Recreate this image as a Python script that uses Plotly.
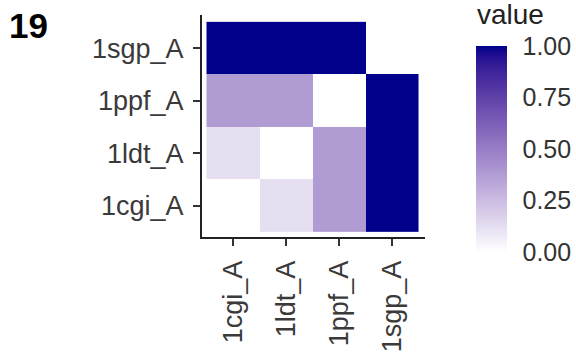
import plotly.graph_objects as go
import numpy as np

# ---- data ----
categories = ["1cgi_A", "1ldt_A", "1ppf_A", "1sgp_A"]
row_1cgi = [0.0, 0.12, 0.38, 1.0]
row_1ldt = [0.12, 0.0, 0.38, 1.0]
row_1ppf = [0.38, 0.38, 0.0, 1.0]
row_1sgp = [1.0, 1.0, 1.0, None]
panel_label = "19"
legend_title = "value"
cbar_ticks = [0.0, 0.25, 0.5, 0.75, 1.0]

z = [row_1cgi, row_1ldt, row_1ppf, row_1sgp]
z = [[np.nan if v is None else v for v in r] for r in z]

# ---- colour scale: white -> darkblue interpolated in Lab (like ggplot) ----
def srgb_to_lin(c):
    c = c / 255.0
    return np.where(c <= 0.04045, c / 12.92, ((c + 0.055) / 1.055) ** 2.4)

def lin_to_srgb(c):
    c = np.clip(c, 0, 1)
    return np.where(c <= 0.0031308, 12.92 * c, 1.055 * c ** (1 / 2.4) - 0.055) * 255

M = np.array([[0.4124, 0.3576, 0.1805], [0.2126, 0.7152, 0.0722], [0.0193, 0.1192, 0.9505]])
WHITE = np.array([0.95047, 1.0, 1.08883])

def rgb_to_lab(rgb):
    xyz = M @ srgb_to_lin(np.array(rgb, float)) / WHITE
    f = np.where(xyz > 0.008856, np.cbrt(xyz), 7.787 * xyz + 16 / 116)
    return np.array([116 * f[1] - 16, 500 * (f[0] - f[1]), 200 * (f[1] - f[2])])

def lab_to_rgb(lab):
    L, a, b = lab
    fy = (L + 16) / 116
    fx = fy + a / 500
    fz = fy - b / 200
    f = np.array([fx, fy, fz])
    xyz = np.where(f ** 3 > 0.008856, f ** 3, (f - 16 / 116) / 7.787) * WHITE
    return lin_to_srgb(np.linalg.inv(M) @ xyz)

lo, hi = rgb_to_lab([255, 255, 255]), rgb_to_lab([0, 0, 139])
colorscale = []
for t in np.linspace(0, 1, 21):
    r, g, b = lab_to_rgb(lo + (hi - lo) * t)
    colorscale.append([float(t), f"rgb({r:.0f},{g:.0f},{b:.0f})"])

W, H = 576, 360
L, R, T, B = 202, 425, 15, 237
FONT = "Liberation Sans, Arial"

def px_x(px):
    return (px - L) / (R - L)

def px_y(py):
    return (B - py) / (B - T)

fig = go.Figure(go.Heatmap(
    x=categories, y=categories, z=z,
    zmin=0, zmax=1, colorscale=colorscale,
    hoverongaps=False,
    colorbar=dict(
        xref="paper", yref="paper",
        x=px_x(476), xanchor="left",
        y=px_y(46), yanchor="top",
        lenmode="pixels", len=206,
        thicknessmode="pixels", thickness=31,
        outlinewidth=0, xpad=0, ypad=0,
        tickvals=cbar_ticks, tickformat=".2f",
        ticks="outside", tickcolor="rgba(0,0,0,0)", ticklen=11, tickwidth=1,
        tickfont=dict(family=FONT, size=25, color="#333333"),
    ),
))

axis_common = dict(
    showline=True, linecolor="#222222", linewidth=2,
    ticks="outside", ticklen=7, tickwidth=2, tickcolor="#333333",
    showgrid=False, zeroline=False, automargin=False,
    tickfont=dict(family=FONT, size=27, color="#3a3a3a"),
)

fig.update_xaxes(range=[-0.585, 3.62], tickangle=-90, ticklabelstandoff=4, **axis_common)
fig.update_yaxes(range=[-0.59, 3.63], ticklabelstandoff=4, **axis_common)

fig.add_annotation(
    text=f"<b>{panel_label}</b>", xref="paper", yref="paper",
    x=px_x(7), y=px_y(25.5),
    xanchor="left", yanchor="middle", showarrow=False,
    font=dict(family=FONT, size=35, color="black"),
)
fig.add_annotation(
    text=legend_title, xref="paper", yref="paper",
    x=px_x(475), y=px_y(14),
    xanchor="left", yanchor="middle", showarrow=False,
    font=dict(family=FONT, size=28, color="#222222"),
)

fig.update_layout(
    width=W, height=H,
    margin=dict(l=L, r=W - R, t=T, b=H - B, pad=0, autoexpand=False),
    plot_bgcolor="white", paper_bgcolor="white",
)

fig.write_html("out.html", config={"displayModeBar": False},
               post_script="document.body.style.margin='0';")
